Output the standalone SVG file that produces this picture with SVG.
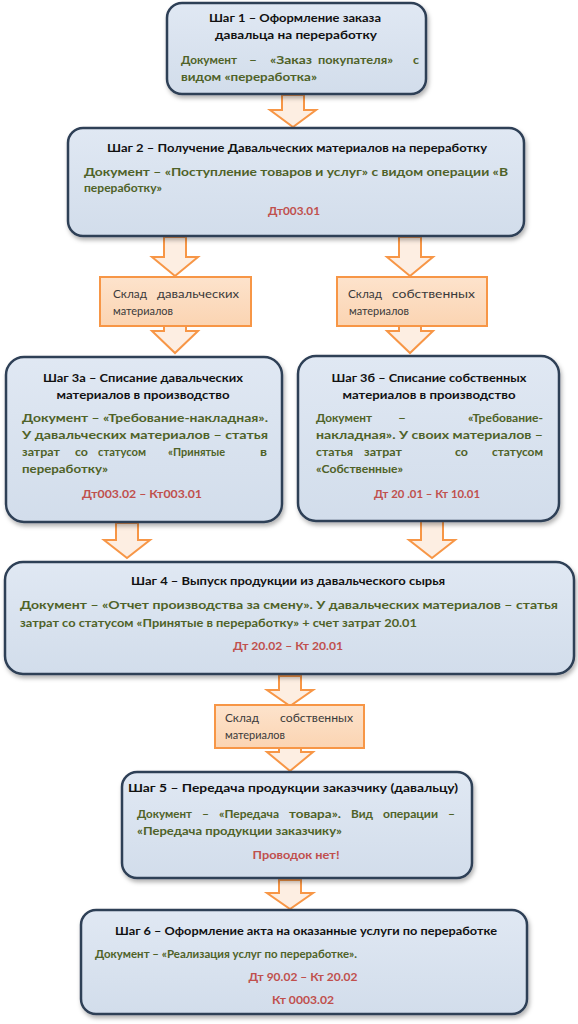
<svg xmlns="http://www.w3.org/2000/svg" width="578" height="1024" viewBox="0 0 578 1024">
<style>
.box{fill:url(#bg);stroke:#2e3f56;stroke-width:2.5;filter:url(#sh)}
.ob{fill:url(#og);stroke:#f79646;stroke-width:2}
.arr{fill:#fdeee2;stroke:#f79646;stroke-width:2;stroke-linejoin:miter}
text{font-family:Lato,"Liberation Sans",sans-serif;font-size:12px}
.t{font-weight:bold;fill:#111;text-anchor:middle}
.g{font-weight:bold;fill:#4f6228}
.r{font-weight:bold;fill:#c0504d;text-anchor:middle}
.o{fill:#3a3a3a;font-size:11.5px}
</style>
<defs>
<linearGradient id="bg" x1="0" y1="0" x2="0" y2="1"><stop offset="0" stop-color="#e0e8f3"/><stop offset="1" stop-color="#d2ddeb"/></linearGradient>
<linearGradient id="og" x1="0" y1="0" x2="0" y2="1"><stop offset="0" stop-color="#fde3cc"/><stop offset="1" stop-color="#fbd4b2"/></linearGradient>
<filter id="sh" x="-10%" y="-10%" width="120%" height="130%"><feDropShadow dx="1.5" dy="3" stdDeviation="2" flood-color="#000" flood-opacity="0.3"/></filter>
</defs>
<rect width="578" height="1024" fill="#fff"/>
<g id="connectors">
<path class="arr" d="M282 95H304V110H316L293 127L270 110H282Z"/>
<path class="arr" d="M164 237H186V257H198L175 276L152 257H164Z"/>
<path class="arr" d="M399 237H421V257H433L410 276L387 257H399Z"/>
<path class="arr" d="M164 320H186V331H198L175 353L152 331H164Z"/>
<path class="arr" d="M399 320H421V331H433L410 353L387 331H399Z"/>
<path class="arr" d="M116 523H138V540H150L127 558L104 540H116Z"/>
<path class="arr" d="M421 521H443V540H455L432 558L409 540H421Z"/>
<path class="arr" d="M279 676H301V690H313L290 706L267 690H279Z"/>
<path class="arr" d="M279 740H301V752H313L290 771L267 752H279Z"/>
<path class="arr" d="M279 880H301V893H313L290 909L267 893H279Z"/>
</g>
<g id="step1">
<rect class="box" x="167" y="3" width="259" height="91" rx="15"/>
<text class="t" x="295" y="22" textLength="172" lengthAdjust="spacingAndGlyphs">Шаг 1 – Оформление заказа</text>
<text class="t" x="296" y="39" textLength="162" lengthAdjust="spacingAndGlyphs">давальца на переработку</text>
<text class="g" x="181" y="64" textLength="56" lengthAdjust="spacingAndGlyphs">Документ</text>
<text class="g" x="249" y="64" textLength="8" lengthAdjust="spacingAndGlyphs">–</text>
<text class="g" x="270" y="64" textLength="42" lengthAdjust="spacingAndGlyphs">«Заказ</text>
<text class="g" x="318" y="64" textLength="75" lengthAdjust="spacingAndGlyphs">покупателя»</text>
<text class="g" x="413" y="64" textLength="6" lengthAdjust="spacingAndGlyphs">с</text>
<text class="g" x="181" y="81" textLength="136" lengthAdjust="spacingAndGlyphs">видом «переработка»</text>
</g>
<g id="step2">
<rect class="box" x="68" y="128" width="456" height="108" rx="15"/>
<text class="t" x="297" y="152" textLength="380" lengthAdjust="spacingAndGlyphs">Шаг 2 – Получение Давальческих материалов на переработку</text>
<text class="g" x="84" y="176" textLength="424" lengthAdjust="spacingAndGlyphs">Документ – «Поступление товаров и услуг» с видом операции «В</text>
<text class="g" x="84" y="192" textLength="78" lengthAdjust="spacingAndGlyphs">переработку»</text>
<text class="r" x="294" y="215" textLength="52" lengthAdjust="spacingAndGlyphs">Дт003.01</text>
</g>
<g id="store1">
<rect class="ob" x="100" y="277" width="151" height="49"/>
<text class="o" x="113" y="298" textLength="34" lengthAdjust="spacingAndGlyphs">Склад</text>
<text class="o" x="157" y="298" textLength="82" lengthAdjust="spacingAndGlyphs">давальческих</text>
<text class="o" x="113" y="315" textLength="60" lengthAdjust="spacingAndGlyphs">материалов</text>
</g>
<g id="store2">
<rect class="ob" x="337" y="277" width="150" height="49"/>
<text class="o" x="348" y="298" textLength="34" lengthAdjust="spacingAndGlyphs">Склад</text>
<text class="o" x="392" y="298" textLength="83" lengthAdjust="spacingAndGlyphs">собственных</text>
<text class="o" x="349" y="315" textLength="60" lengthAdjust="spacingAndGlyphs">материалов</text>
</g>
<g id="step3a">
<rect class="box" x="6" y="357" width="276" height="165" rx="18"/>
<text class="t" x="143" y="382" textLength="200" lengthAdjust="spacingAndGlyphs">Шаг 3а – Списание давальческих</text>
<text class="t" x="143" y="399" textLength="173" lengthAdjust="spacingAndGlyphs">материалов в производство</text>
<text class="g" x="22" y="422" textLength="246" lengthAdjust="spacingAndGlyphs">Документ – «Требование-накладная».</text>
<text class="g" x="22" y="439" textLength="246" lengthAdjust="spacingAndGlyphs">У давальческих материалов – статья</text>
<text class="g" x="22" y="456" textLength="38" lengthAdjust="spacingAndGlyphs">затрат</text>
<text class="g" x="75" y="456" textLength="13" lengthAdjust="spacingAndGlyphs">со</text>
<text class="g" x="98" y="456" textLength="48" lengthAdjust="spacingAndGlyphs">статусом</text>
<text class="g" x="168" y="456" textLength="57" lengthAdjust="spacingAndGlyphs">«Принятые</text>
<text class="g" x="260" y="456" textLength="7" lengthAdjust="spacingAndGlyphs">в</text>
<text class="g" x="22" y="473" textLength="86" lengthAdjust="spacingAndGlyphs">переработку»</text>
<text class="r" x="142" y="498" textLength="120" lengthAdjust="spacingAndGlyphs">Дт003.02 – Кт003.01</text>
</g>
<g id="step3b">
<rect class="box" x="298" y="356" width="261" height="165" rx="18"/>
<text class="t" x="429" y="382" textLength="195" lengthAdjust="spacingAndGlyphs">Шаг 3б – Списание собственных</text>
<text class="t" x="429" y="399" textLength="173" lengthAdjust="spacingAndGlyphs">материалов в производство</text>
<text class="g" x="316" y="422" textLength="56" lengthAdjust="spacingAndGlyphs">Документ</text>
<text class="g" x="398" y="422" textLength="8" lengthAdjust="spacingAndGlyphs">–</text>
<text class="g" x="468" y="422" textLength="75" lengthAdjust="spacingAndGlyphs">«Требование-</text>
<text class="g" x="316" y="439" textLength="227" lengthAdjust="spacingAndGlyphs">накладная». У своих материалов –</text>
<text class="g" x="316" y="456" textLength="37" lengthAdjust="spacingAndGlyphs">статья</text>
<text class="g" x="364" y="456" textLength="38" lengthAdjust="spacingAndGlyphs">затрат</text>
<text class="g" x="455" y="456" textLength="13" lengthAdjust="spacingAndGlyphs">со</text>
<text class="g" x="492" y="456" textLength="51" lengthAdjust="spacingAndGlyphs">статусом</text>
<text class="g" x="316" y="473" textLength="87" lengthAdjust="spacingAndGlyphs">«Собственные»</text>
<text class="r" x="427" y="498" textLength="106" lengthAdjust="spacingAndGlyphs">Дт 20 .01 – Кт 10.01</text>
</g>
<g id="step4">
<rect class="box" x="5" y="562" width="569" height="112" rx="18"/>
<text class="t" x="288" y="585" textLength="314" lengthAdjust="spacingAndGlyphs">Шаг 4 – Выпуск продукции из давальческого сырья</text>
<text class="g" x="20" y="609" textLength="538" lengthAdjust="spacingAndGlyphs">Документ – «Отчет производства за смену». У давальческих материалов – статья</text>
<text class="g" x="20" y="627" textLength="397" lengthAdjust="spacingAndGlyphs">затрат со статусом «Принятые в переработку» + счет затрат 20.01</text>
<text class="r" x="288" y="650" textLength="110" lengthAdjust="spacingAndGlyphs">Дт 20.02 – Кт 20.01</text>
</g>
<g id="store3">
<rect class="ob" x="215" y="705" width="149" height="43"/>
<text class="o" x="225" y="722" textLength="34" lengthAdjust="spacingAndGlyphs">Склад</text>
<text class="o" x="280" y="722" textLength="73" lengthAdjust="spacingAndGlyphs">собственных</text>
<text class="o" x="225" y="739" textLength="60" lengthAdjust="spacingAndGlyphs">материалов</text>
</g>
<g id="step5">
<rect class="box" x="122" y="772" width="350" height="106" rx="15"/>
<text class="t" x="293" y="792" textLength="330" lengthAdjust="spacingAndGlyphs">Шаг 5 – Передача продукции заказчику (давальцу)</text>
<text class="g" x="137" y="818" textLength="55" lengthAdjust="spacingAndGlyphs">Документ</text>
<text class="g" x="202" y="818" textLength="7" lengthAdjust="spacingAndGlyphs">–</text>
<text class="g" x="219" y="818" textLength="60" lengthAdjust="spacingAndGlyphs">«Передача</text>
<text class="g" x="289" y="818" textLength="52" lengthAdjust="spacingAndGlyphs">товара».</text>
<text class="g" x="351" y="818" textLength="22" lengthAdjust="spacingAndGlyphs">Вид</text>
<text class="g" x="383" y="818" textLength="55" lengthAdjust="spacingAndGlyphs">операции</text>
<text class="g" x="448" y="818" textLength="7" lengthAdjust="spacingAndGlyphs">–</text>
<text class="g" x="137" y="835" textLength="205" lengthAdjust="spacingAndGlyphs">«Передача продукции заказчику»</text>
<text class="r" x="296" y="859" textLength="87" lengthAdjust="spacingAndGlyphs">Проводок нет!</text>
</g>
<g id="step6">
<rect class="box" x="81" y="910" width="446" height="104" rx="15"/>
<text class="t" x="306" y="935" textLength="382" lengthAdjust="spacingAndGlyphs">Шаг 6 – Оформление акта на оказанные услуги по переработке</text>
<text class="g" x="95" y="958" textLength="262" lengthAdjust="spacingAndGlyphs">Документ – «Реализация услуг по переработке».</text>
<text class="r" x="303" y="981" textLength="109" lengthAdjust="spacingAndGlyphs">Дт 90.02 – Кт 20.02</text>
<text class="r" x="303" y="1004" textLength="62" lengthAdjust="spacingAndGlyphs">Кт 0003.02</text>
</g>
</svg>
